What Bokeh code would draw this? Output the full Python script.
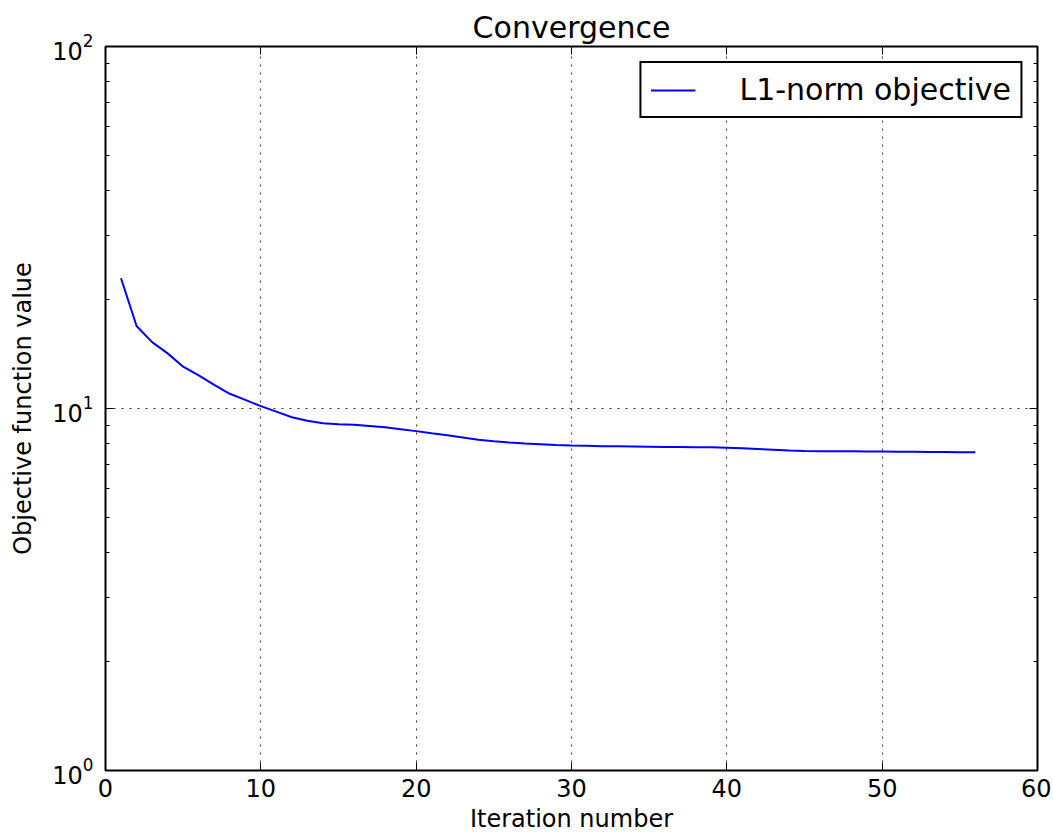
from bokeh.plotting import figure
from bokeh.models import (Range1d, FixedTicker, LogTicker, LinearAxis, LogAxis,
                          Legend, LegendItem, ColumnDataSource, CustomJSTickFormatter)
from bokeh.embed import file_html
from bokeh.resources import INLINE

iterations = list(range(1, 57))
objective = [22.9, 16.9, 15.25, 14.2, 13.05, 12.34, 11.62, 10.98, 10.56, 10.15,
             9.8, 9.46, 9.25, 9.1, 9.05, 9.02, 8.95, 8.87, 8.77, 8.66,
             8.54, 8.43, 8.32, 8.2, 8.12, 8.06, 8.01, 7.97, 7.93, 7.9,
             7.89, 7.87, 7.86, 7.85, 7.84, 7.83, 7.83, 7.82, 7.81, 7.79,
             7.77, 7.73, 7.69, 7.65, 7.63, 7.62, 7.62, 7.62, 7.61, 7.61,
             7.60, 7.59, 7.58, 7.58, 7.57, 7.57]
x_ticks = [0, 10, 20, 30, 40, 50, 60]
title_text = "Convergence"
x_label = "Iteration number"
y_label = "Objective function value"
legend_label = "L1-norm objective"

FONT = "DejaVu Sans"

p = figure(frame_width=932, frame_height=724,
           x_range=Range1d(0, 60), y_range=Range1d(1, 100), y_axis_type="log",
           output_backend="svg", toolbar_location=None,
           min_border_left=105, min_border_right=14, min_border_top=46, min_border_bottom=60)

p.title.text = title_text
p.title.align = "center"
p.title.text_font = FONT
p.title.text_font_size = "30px"
p.title.text_font_style = "normal"
p.title.text_color = "black"
p.title.standoff = 4

src = ColumnDataSource(dict(x=iterations, y=objective))
r = p.line("x", "y", source=src, line_color="#0000ff", line_width=2)

p.outline_line_color = "black"
p.outline_line_width = 2
p.background_fill_color = "white"
p.border_fill_color = "white"

def style_axis(ax, labels=True, minor=True):
    ax.axis_line_color = None
    ax.major_tick_in = 8
    ax.major_tick_out = 0
    ax.major_tick_line_color = "black"
    ax.major_tick_line_width = 1
    if minor:
        ax.minor_tick_in = 4
        ax.minor_tick_out = 0
        ax.minor_tick_line_color = "black"
        ax.minor_tick_line_width = 1
    else:
        ax.minor_tick_line_color = None
    ax.major_label_text_font = FONT
    ax.major_label_text_color = "black"
    ax.major_label_text_font_size = "24px"
    if not labels:
        ax.formatter = CustomJSTickFormatter(code="return '';")
        ax.major_label_standoff = 0
    ax.axis_label_text_font = FONT
    ax.axis_label_text_font_size = "24px"
    ax.axis_label_text_font_style = "normal"
    ax.axis_label_text_color = "black"

xt = FixedTicker(ticks=x_ticks)
p.xaxis.ticker = xt
style_axis(p.xaxis[0], labels=True, minor=False)
p.xaxis.axis_label = x_label
p.xaxis.major_label_standoff = 8
p.xaxis.axis_label_standoff = 5

yt = LogTicker(desired_num_ticks=3, num_minor_ticks=10)
p.yaxis.ticker = yt
style_axis(p.yaxis[0], labels=True, minor=True)
p.yaxis.axis_label = y_label
p.yaxis.major_label_standoff = 12
p.yaxis.axis_label_standoff = 12

top = LinearAxis(ticker=FixedTicker(ticks=x_ticks))
style_axis(top, labels=False, minor=False)
p.add_layout(top, "above")

right = LogAxis(ticker=LogTicker(desired_num_ticks=3, num_minor_ticks=10))
style_axis(right, labels=False, minor=True)
p.add_layout(right, "right")

p.xgrid.grid_line_color = "black"
p.xgrid.grid_line_dash = "2 6"
p.xgrid.grid_line_width = 1
p.xgrid.grid_line_alpha = 0.8
p.ygrid.grid_line_color = "black"
p.ygrid.grid_line_dash = "2 6"
p.ygrid.grid_line_width = 1
p.ygrid.grid_line_alpha = 0.8

legend = Legend(items=[LegendItem(label=legend_label, renderers=[r])],
                location="top_right")
legend.label_text_font = FONT
legend.label_text_font_size = "30px"
legend.label_text_color = "black"
legend.label_text_line_height = 0.9
legend.glyph_width = 45
legend.glyph_height = 20
legend.label_height = 20
legend.label_standoff = 44
legend.padding = 9
legend.margin = 15
legend.border_line_color = "black"
legend.border_line_width = 2
legend.border_line_alpha = 1
legend.background_fill_color = "white"
legend.background_fill_alpha = 1
p.add_layout(legend)

open("out.html", "w").write(file_html(p, INLINE))
